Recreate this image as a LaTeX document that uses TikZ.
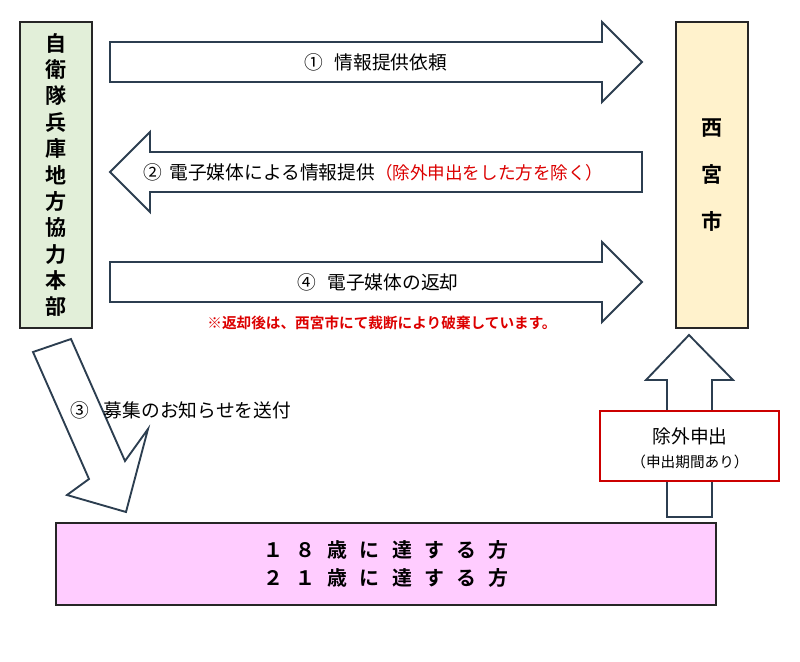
\documentclass[tikz,border=0pt]{standalone}
\usepackage{fontspec}
\setmainfont{Noto Sans CJK JP}[BoldFont={Noto Sans CJK JP Bold}]
\newcommand{\gp}{\hspace{0.62em}}
\begin{document}
\begin{tikzpicture}[x=0.3mm,y=-0.3mm,
  blk/.style={draw=black!85,line width=1.2pt,inner sep=0pt},
  arr/.style={draw={rgb,255:red,44;green,62;blue,80},line width=1.6pt,fill=white,line join=miter},
  lbl/.style={font=\fontsize{16}{19}\selectfont,inner sep=0pt},
  red/.style={text={rgb,255:red,220;green,0;blue,0}}]
\useasboundingbox (0,0) rectangle (800,661);
% left and right boxes
\node[blk,fill={rgb,255:red,226;green,239;blue,217},minimum width=21.6mm,minimum height=91.8mm,
  font=\bfseries\fontsize{18}{22.5}\selectfont,align=center] (L) at (56,175) {自\\衛\\隊\\兵\\庫\\地\\方\\協\\力\\本\\部};
\node[blk,fill={rgb,255:red,255;green,242;blue,204},minimum width=21.6mm,minimum height=91.8mm,
  font=\bfseries\fontsize{18}{40}\selectfont,align=center] (R) at (712,175) {西\\宮\\市};
% arrow 1
\draw[arr] (110,42) -- (602,42) -- (602,22) -- (642,62) -- (602,102) -- (602,82) -- (110,82) -- cycle;
\node[lbl] (a1) at (376,62) {①\hspace{0.6em}情報提供依頼};
% arrow 2
\draw[arr] (642,152) -- (150,152) -- (150,132) -- (110,172) -- (150,212) -- (150,192) -- (642,192) -- cycle;
\node[lbl,anchor=west] (a2) at (143,172) {②\hspace{0.4em}電子媒体による情報提供{\color[RGB]{220,0,0}\fontsize{15}{18}\selectfont（除外申出をした方を除く）}};
% arrow 4
\draw[arr] (110,262) -- (602,262) -- (602,242) -- (642,282) -- (602,322) -- (602,302) -- (110,302) -- cycle;
\node[lbl] (a4) at (378,282) {④\hspace{0.6em}電子媒体の返却};
\node[red,font=\bfseries\fontsize{12.5}{14}\selectfont,inner sep=0pt] (note) at (382,323) {※返却後は、西宮市にて裁断により破棄しています。};
% arrow 3
\draw[arr] (33,352) -- (71,339) -- (125,461) -- (148,429) -- (126,512) -- (67,495) -- (89,479) -- cycle;
\node[lbl,anchor=west] (a3) at (70,410) {③\hspace{0.8em}募集のお知らせを送付};
% up arrow
\draw[arr] (667,517) -- (667,380) -- (646,380) -- (689,335) -- (733,380) -- (712,380) -- (712,517) -- cycle;
\node[draw={rgb,255:red,204;green,0;blue,0},line width=1.4pt,fill=white,minimum width=53.7mm,minimum height=21mm,inner sep=0pt] (ex) at (689.5,446) {};
\node[lbl] (ext) at (690,436) {除外申出};
\node[font=\fontsize{12.5}{14}\selectfont,inner sep=0pt] (ext2) at (690,462) {（申出期間あり）};
% bottom box
\node[blk,fill={rgb,255:red,255;green,204;blue,255},minimum width=198mm,minimum height=24.6mm,
  font=\bfseries\fontsize{17}{24}\selectfont,align=center] (B) at (386,564) {１\gp ８\gp 歳\gp に\gp 達\gp す\gp る\gp 方\\２\gp １\gp 歳\gp に\gp 達\gp す\gp る\gp 方};
\end{tikzpicture}
\end{document}
